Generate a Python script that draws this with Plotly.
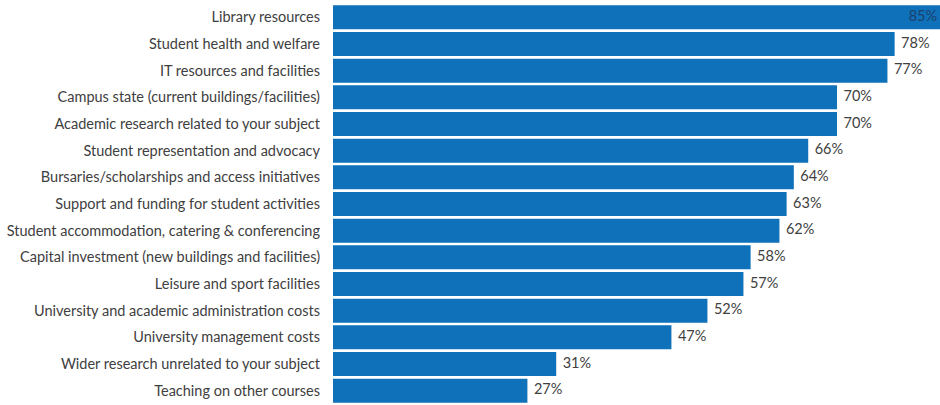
import plotly.graph_objects as go

categories = [
    "Library resources",
    "Student health and welfare",
    "IT resources and facilities",
    "Campus state (current buildings/facilities)",
    "Academic research related to your subject",
    "Student representation and advocacy",
    "Bursaries/scholarships and access initiatives",
    "Support and funding for student activities",
    "Student accommodation, catering & conferencing",
    "Capital investment (new buildings and facilities)",
    "Leisure and sport facilities",
    "University and academic administration costs",
    "University management costs",
    "Wider research unrelated to your subject",
    "Teaching on other courses",
]
values = [85, 78, 77, 70, 70, 66, 64, 63, 62, 58, 57, 52, 47, 31, 27]
labels = [f"{v}%" for v in values]

XMAX = 84.3
BAR_COLOR = "#0f71b9"
TEXT_COLOR = "#404040"
FONT = "Lato"
FSIZE = 14.5

fig = go.Figure()
fig.add_trace(go.Bar(
    x=values, y=categories, orientation="h",
    marker=dict(color=BAR_COLOR, line=dict(width=0)),
    hoverinfo="skip",
))

label_x = []
label_pos = []
label_col = []
for v in values:
    if v > XMAX - 3:
        label_x.append(XMAX - 0.4)
        label_pos.append("middle left")
        label_col.append("#1d3f6b")
    else:
        label_x.append(v + 0.9)
        label_pos.append("middle right")
        label_col.append(TEXT_COLOR)

fig.add_trace(go.Scatter(
    x=label_x, y=categories, mode="text", text=labels,
    textposition=label_pos,
    textfont=dict(family=FONT, size=FSIZE, color=label_col),
    hoverinfo="skip", cliponaxis=False,
))

fig.update_layout(
    width=940, height=405,
    margin=dict(l=333, r=0, t=4, b=1, autoexpand=False),
    paper_bgcolor="white", plot_bgcolor="white",
    showlegend=False, bargap=0.1,
    font=dict(family=FONT, size=FSIZE, color=TEXT_COLOR),
)
fig.update_xaxes(range=[0, XMAX], visible=False, showgrid=False, zeroline=False)
fig.update_yaxes(
    categoryorder="array", categoryarray=categories,
    range=[len(categories) - 0.5, -0.5], autorange=False,
    showgrid=False, zeroline=False, showline=False, ticks="",
    ticklabelstandoff=12, automargin=False,
    tickfont=dict(family=FONT, size=FSIZE, color=TEXT_COLOR),
)

fig.write_html(
    "out.html",
    config={"displayModeBar": False},
    post_script="document.body.style.margin='0';document.body.style.overflow='hidden';",
)
